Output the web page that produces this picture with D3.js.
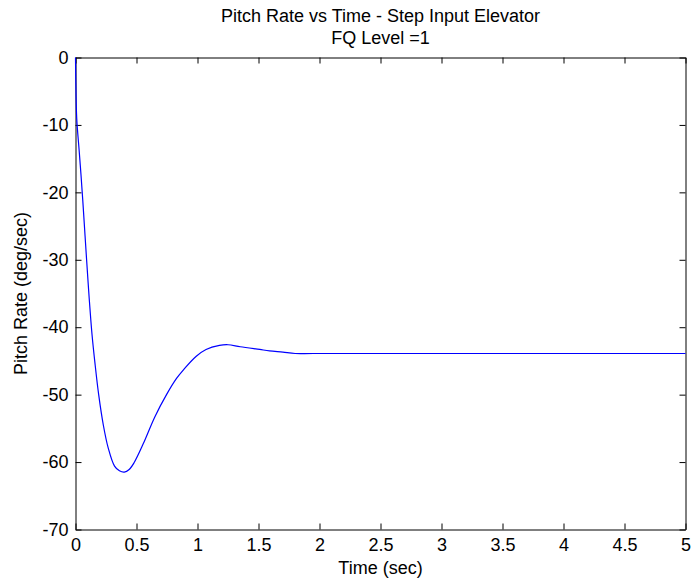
<!DOCTYPE html>
<html>
<head>
<meta charset="utf-8">
<script src="https://cdn.jsdelivr.net/npm/d3@7"></script>
<style>
  body { margin: 0; background: #fff; }
  text { font-family: "Liberation Sans", Arial, sans-serif; fill: #000; }
</style>
</head>
<body>
<div id="chart"></div>
<script>
// time (sec) and pitch rate (deg/sec)
var timeVals = [0, 0.002, 0.01, 0.03, 0.045, 0.06, 0.075, 0.091, 0.113, 0.135, 0.16, 0.19,
    0.228, 0.268, 0.32, 0.36, 0.40, 0.44, 0.48, 0.555, 0.65, 0.746, 0.828, 0.89,
    0.99, 1.07, 1.18, 1.25, 1.35, 1.51, 1.59, 1.70, 1.80, 1.95, 5.0];
var rateVals = [0, -3, -9, -13.8, -17.4, -21.3, -25.5, -30, -35.9, -41, -45.4, -50,
    -54.5, -57.9, -60.6, -61.3, -61.5, -61.1, -60.1, -57.3, -53.3, -50, -47.6, -46.2,
    -44.3, -43.3, -42.7, -42.6, -42.9, -43.3, -43.5, -43.7, -43.9, -43.9, -43.9];

var xTicks = [0, 0.5, 1, 1.5, 2, 2.5, 3, 3.5, 4, 4.5, 5];
var yTicks = [0, -10, -20, -30, -40, -50, -60, -70];

var titleLines = ["Pitch Rate vs Time - Step Input Elevator", "FQ Level =1"];
var xLabel = "Time (sec)";
var yLabel = "Pitch Rate (deg/sec)";

var data = timeVals.map(function (t, i) { return { t: t, v: rateVals[i] }; });

var W = 691, H = 581;
var box = { left: 75.5, right: 685.5, top: 57.5, bottom: 529.5 };

var svg = d3.select("#chart")
    .append("svg")
    .attr("width", W)
    .attr("height", H);

var x = d3.scaleLinear().domain([0, 5]).range([box.left, box.right]);
var y = d3.scaleLinear().domain([-70, 0]).range([box.bottom, box.top]);

var plain = function (d) { return String(d); };

// title
svg.selectAll(".title")
    .data(titleLines)
    .enter().append("text")
    .attr("class", "title")
    .attr("x", (box.left + box.right) / 2)
    .attr("y", function (d, i) { return 21.5 + i * 22; })
    .attr("text-anchor", "middle")
    .style("font-size", "18px")
    .text(function (d) { return d; });

// axes, MATLAB style box with inward ticks
svg.append("g")
    .attr("transform", "translate(0," + box.bottom + ")")
    .call(d3.axisBottom(x).tickValues(xTicks).tickSizeInner(-6).tickSizeOuter(0).tickPadding(9)
        .tickFormat(plain))
    .call(function (g) { g.selectAll("text").style("font-size", "18px"); });

svg.append("g")
    .attr("transform", "translate(0," + box.top + ")")
    .call(d3.axisTop(x).tickValues(xTicks).tickSizeInner(-6).tickSizeOuter(0).tickFormat(""));

svg.append("g")
    .attr("transform", "translate(" + box.left + ",0)")
    .call(d3.axisLeft(y).tickValues(yTicks).tickSizeInner(-6).tickSizeOuter(0).tickPadding(7)
        .tickFormat(plain))
    .call(function (g) { g.selectAll("text").style("font-size", "18px"); });

svg.append("g")
    .attr("transform", "translate(" + box.right + ",0)")
    .call(d3.axisRight(y).tickValues(yTicks).tickSizeInner(-6).tickSizeOuter(0).tickFormat(""));

svg.selectAll(".domain, .tick line").attr("stroke", "#000").attr("stroke-width", 1);

// labels
svg.append("text")
    .attr("x", (box.left + box.right) / 2)
    .attr("y", 574)
    .attr("text-anchor", "middle")
    .style("font-size", "18px")
    .text(xLabel);

svg.append("text")
    .attr("transform", "translate(27," + (box.top + box.bottom) / 2 + ") rotate(-90)")
    .attr("text-anchor", "middle")
    .style("font-size", "18px")
    .text(yLabel);

// response curve
var line = d3.line()
    .x(function (d) { return x(d.t); })
    .y(function (d) { return y(d.v); })
    .curve(d3.curveCatmullRom.alpha(0.5));

svg.append("path")
    .datum(data)
    .attr("fill", "none")
    .attr("stroke", "#0000ff")
    .attr("stroke-width", 1.2)
    .attr("d", line);
</script>
</body>
</html>
